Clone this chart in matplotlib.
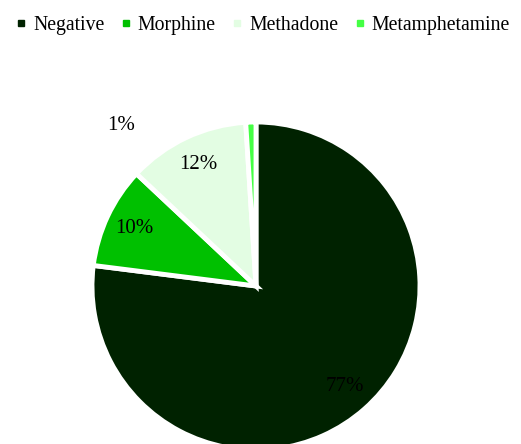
import matplotlib
matplotlib.use("Agg")
import matplotlib.pyplot as plt
from matplotlib.lines import Line2D

labels = ["Negative", "Morphine", "Methadone", "Metamphetamine"]
values = [77, 10, 12, 1]
colors = ["#002200", "#00C000", "#E3FDE3", "#44FF44"]

plt.rcParams['font.family'] = ['Liberation Serif', 'DejaVu Serif']

fig = plt.figure(figsize=(5.21, 4.44), dpi=100)
ax = fig.add_axes([0, 0, 1, 1])

wedges, texts, autotexts = ax.pie(
    values, colors=colors, startangle=90, counterclock=False,
    center=(256, 158), radius=164, frame=True,
    autopct=lambda p: f"{p:.0f}%", pctdistance=0.82,
    wedgeprops=dict(edgecolor="white", linewidth=3.5),
    textprops=dict(fontsize=15, color="black"))
ax.set_xlim(0, 521)
ax.set_ylim(0, 444)
ax.axis('off')
# move the 1% label outside, as in the reference
autotexts[3].set_position((121, 444 - 125))

handles = [Line2D([], [], marker='s', linestyle='none', markersize=4.5,
                  markerfacecolor=c, markeredgecolor=c) for c in colors]
fig.legend(handles, labels, loc='upper center', bbox_to_anchor=(0.505, 1.0),
           ncol=4, frameon=False, fontsize=14.2, handlelength=0.5,
           handletextpad=0.35, columnspacing=0.85, borderaxespad=0.4)

fig.savefig("out.png", dpi=100)
